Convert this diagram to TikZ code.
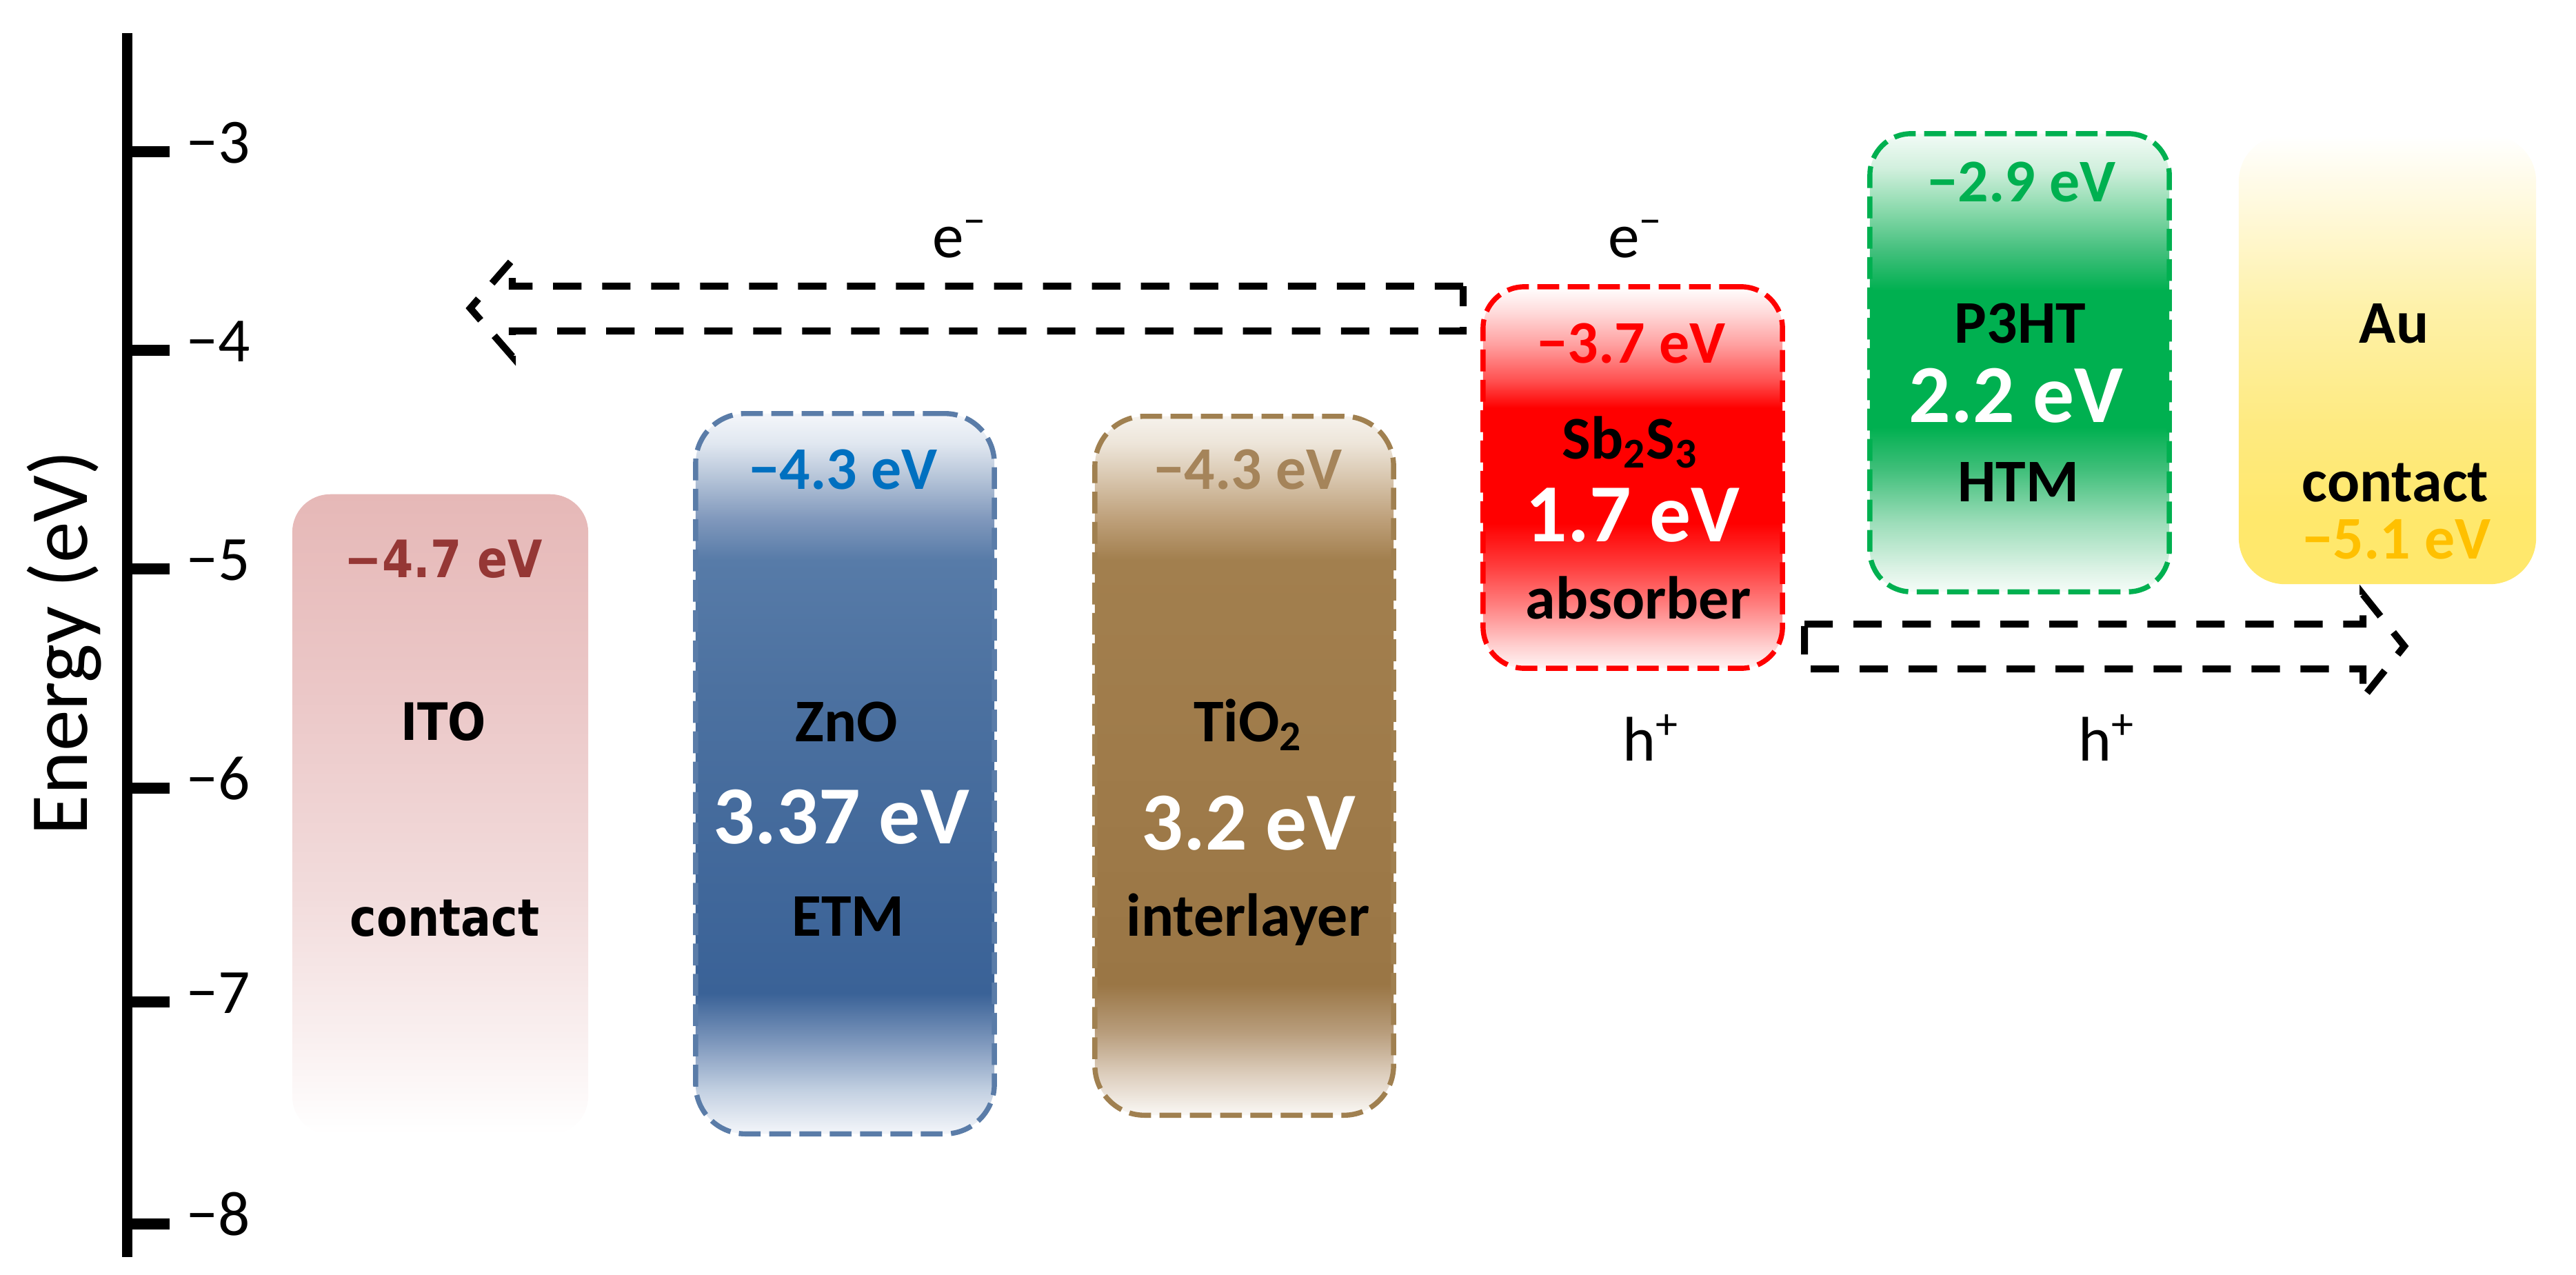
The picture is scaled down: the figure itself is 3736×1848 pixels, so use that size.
\documentclass[tikz,border=0pt]{standalone}
\usepackage{fontspec}
\usepackage{graphicx}
\setmainfont{Carlito}
\newfontfamily\itofont{DejaVu Sans}
% ZnO
\definecolor{zA}{HTML}{F4F6FA}\definecolor{zB}{HTML}{C4D1E2}\definecolor{zC}{HTML}{7D97BC}
\definecolor{zD}{HTML}{3A6297}\definecolor{zE}{HTML}{4C71A0}\definecolor{zF}{HTML}{577BA8}
\definecolor{zG}{HTML}{8098BC}\definecolor{zH}{HTML}{B5C4D8}\definecolor{zI}{HTML}{E0E7F0}
\pgfdeclareverticalshading{shzno}{100bp}{color(0bp)=(zA); color(25bp)=(zA); color(27.95bp)=(zB); color(31.37bp)=(zC); color(34.74bp)=(zD); color(55.8bp)=(zE); color(64.83bp)=(zF); color(67.68bp)=(zG); color(70.53bp)=(zH); color(72.91bp)=(zI); color(75bp)=(zA); color(100bp)=(zA)}
% TiO2
\definecolor{tA}{HTML}{FAF8F5}\definecolor{tB}{HTML}{DCCDBC}\definecolor{tC}{HTML}{B89D7C}
\definecolor{tD}{HTML}{9A7645}\definecolor{tE}{HTML}{9F7B4A}\definecolor{tF}{HTML}{A27F4E}
\definecolor{tG}{HTML}{BEA07A}\definecolor{tH}{HTML}{D8C6AE}\definecolor{tI}{HTML}{EDE5D9}\definecolor{tJ}{HTML}{F6F2EC}
\pgfdeclareverticalshading{shtio}{100bp}{color(0bp)=(tA); color(25bp)=(tA); color(27.99bp)=(tB); color(30.93bp)=(tC); color(34.35bp)=(tD); color(50.51bp)=(tE); color(64.72bp)=(tF); color(67.65bp)=(tG); color(70.59bp)=(tH); color(73.04bp)=(tI); color(75bp)=(tJ); color(100bp)=(tJ)}
% Sb2S3
\definecolor{sA}{HTML}{FFF5F5}\definecolor{sB}{HTML}{FFCFCF}\definecolor{sC}{HTML}{FF8080}
\definecolor{sD}{HTML}{FF3A3A}\definecolor{sE}{HTML}{FF0000}\definecolor{sF}{HTML}{FF5050}
\definecolor{sG}{HTML}{FFA0A0}\definecolor{sH}{HTML}{FFDADA}\definecolor{sI}{HTML}{FFFFFF}
\pgfdeclareverticalshading{shsb}{100bp}{color(0bp)=(sA); color(25bp)=(sA); color(27.94bp)=(sB); color(33.29bp)=(sC); color(38.64bp)=(sD); color(43.98bp)=(sE); color(59.14bp)=(sE); color(62.7bp)=(sF); color(67.42bp)=(sG); color(71.61bp)=(sH); color(75bp)=(sI); color(100bp)=(sI)}
% P3HT
\definecolor{pA}{HTML}{F5FCF8}\definecolor{pB}{HTML}{DDF3E6}\definecolor{pC}{HTML}{9CDDB9}
\definecolor{pD}{HTML}{3DBE78}\definecolor{pE}{HTML}{00B050}\definecolor{pF}{HTML}{45C07E}
\definecolor{pG}{HTML}{8CDAAD}\definecolor{pH}{HTML}{D2F0DE}\definecolor{pI}{HTML}{F2FBF6}
\pgfdeclareverticalshading{shp3}{100bp}{color(0bp)=(pA); color(25bp)=(pA); color(27.38bp)=(pB); color(32.59bp)=(pC); color(38.54bp)=(pD); color(43.01bp)=(pE); color(57.89bp)=(pE); color(62.35bp)=(pF); color(66.82bp)=(pG); color(71.28bp)=(pH); color(75bp)=(pI); color(100bp)=(pI)}
% Au
\definecolor{aA}{HTML}{FFE86C}\definecolor{aB}{HTML}{FEEA80}\definecolor{aC}{HTML}{FEF1A8}
\definecolor{aD}{HTML}{FFF9DC}\definecolor{aE}{HTML}{FFFFFF}
\pgfdeclareverticalshading{shau}{100bp}{color(0bp)=(aA); color(25bp)=(aA); color(32.45bp)=(aA); color(42.43bp)=(aB); color(55.49bp)=(aC); color(67.01bp)=(aD); color(75bp)=(aE); color(100bp)=(aE)}
% ITO
\definecolor{iA}{HTML}{FFFFFF}\definecolor{iB}{HTML}{F9EFEF}\definecolor{iC}{HTML}{F2DCDC}
\definecolor{iD}{HTML}{EBC7C7}\definecolor{iE}{HTML}{E6B8B7}
\pgfdeclareverticalshading{shito}{100bp}{color(0bp)=(iA); color(25bp)=(iA); color(32.81bp)=(iB); color(43.59bp)=(iC); color(59.75bp)=(iD); color(75bp)=(iE); color(100bp)=(iE)}
% text and border colours
\definecolor{itoT}{HTML}{953735}
\definecolor{znoT}{HTML}{0070C0}
\definecolor{znoL}{HTML}{5A7CA8}
\definecolor{tioT}{HTML}{A5845A}
\definecolor{tioL}{HTML}{A08050}
\definecolor{sbT}{HTML}{FF0000}
\definecolor{p3T}{HTML}{00B050}
\definecolor{auT}{HTML}{FFC000}
\begin{document}
\begin{tikzpicture}[x=0.01cm,y=-0.01cm,
  bx/.style={rectangle, inner sep=0pt, outer sep=0pt, shade},
  bord/.style={draw=#1, line width=2.1pt, dash pattern=on 9pt off 3.5pt},
  lab/.style={font=\bfseries\fontsize{25}{30}\selectfont, anchor=base, inner sep=0pt},
  big/.style={font=\bfseries\fontsize{34}{40}\selectfont, anchor=base, inner sep=0pt, text=white},
  itol/.style={font=\itofont\bfseries\fontsize{18.5}{22}\selectfont, anchor=base, inner sep=0pt},
  ticklab/.style={font=\fontsize{26}{30}\selectfont, anchor=base west, inner sep=0pt},
  car/.style={font=\fontsize{26}{30}\selectfont, anchor=base, inner sep=0pt},
  blk/.style={line width=2.85pt, dash pattern=on 11.7pt off 8.5pt, line join=miter},
  axl/.style={line width=4.3pt}
]
\useasboundingbox (0,0) rectangle (3736,1848);

% ---- axis
\coordinate (axTop) at (184.5,48);
\coordinate (axBot) at (184.5,1823);
\draw[axl] (axTop) -- (axBot);
\foreach \v/\y in {3/220,4/508,5/825,6/1143,7/1453,8/1775}{
  \coordinate (tk\v) at (184.5,\y);
  \draw[axl] (tk\v) -- ++(61,0);
  \node[ticklab] (tl\v) at (270,\y+16) {−\v};
}
\node[font=\fontsize{34}{40}\selectfont, rotate=90, anchor=base, inner sep=0pt] (ylab) at (126,932) {Energy (eV)};

% ---- boxes
\node[bx, shading=shito, rounded corners=0.55cm, minimum width=4.29cm, minimum height=9.28cm] (itoBox) at (638.5,1181) {};
\node[bx, shading=shzno, rounded corners=0.72cm, minimum width=4.33cm, minimum height=10.44cm, bord=znoL] (znoBox) at (1225.5,1122) {};
\node[bx, shading=shtio, rounded corners=0.72cm, minimum width=4.33cm, minimum height=10.13cm, bord=tioL] (tioBox) at (1804.5,1110.5) {};
\node[bx, shading=shsb, rounded corners=0.6cm, minimum width=4.34cm, minimum height=5.53cm, bord=sbT] (sbBox) at (2368,692.5) {};
\node[bx, shading=shp3, rounded corners=0.6cm, minimum width=4.34cm, minimum height=6.64cm, bord=p3T] (p3Box) at (2929,526) {};
\node[bx, shading=shau, rounded corners=0.67cm, minimum width=4.31cm, minimum height=6.51cm] (auBox) at (3462.5,521.5) {};

% ---- block arrows
\coordinate (eTail) at (2122,447);
\coordinate (eTip) at (682,447);
\draw[blk] (2122,415) -- (743,415) -- (743,377) -- (eTip) -- (743,517) -- (743,480) -- (2122,480) -- cycle;
\coordinate (hTail) at (2617,937);
\coordinate (hTip) at (3487,937);
\draw[blk] (2617,905) -- (3427,905) -- (3427,862) -- (hTip) -- (3427,1012) -- (3427,970) -- (2617,970) -- cycle;

\node[car] (e1) at (1392,373) {e\textsuperscript{−}};
\node[car] (e2) at (2372,373) {e\textsuperscript{−}};
\node[car] (h1) at (2394,1103) {h\textsuperscript{+}};
\node[car] (h2) at (3055,1103) {h\textsuperscript{+}};

% ---- ITO
\node[itol, text=itoT] (itoE) at (643,837) {\scalebox{1}[1.15]{−4.7 eV}};
\node[itol] (itoN) at (643,1073) {\scalebox{1}[1.15]{ITO}};
\node[itol] (itoR) at (645,1357) {\scalebox{1}[1.15]{contact}};
% ---- ZnO
\node[lab, text=znoT] (znoE) at (1223,709) {−4.3 eV};
\node[lab] (znoN) at (1228,1075) {ZnO};
\node[big] (znoG) at (1220,1223) {3.37 eV};
\node[lab] (znoR) at (1230,1357) {ETM};
% ---- TiO2
\node[lab, text=tioT] (tioE) at (1810,709) {−4.3 eV};
\node[lab] (tioN) at (1810,1075) {TiO\textsubscript{2}};
\node[big] (tioG) at (1811,1232) {3.2 eV};
\node[lab] (tioR) at (1810,1357) {interlayer};
% ---- Sb2S3
\node[lab, text=sbT] (sbE) at (2366,526) {−3.7 eV};
\node[lab] (sbN) at (2364,665) {Sb\textsubscript{2}S\textsubscript{3}};
\node[big] (sbG) at (2368,785) {1.7 eV};
\node[lab] (sbR) at (2376,897) {absorber};
% ---- P3HT
\node[lab, text=p3T] (p3E) at (2932,292) {−2.9 eV};
\node[lab] (p3N) at (2930,497) {P3HT};
\node[big] (p3G) at (2924,612) {2.2 eV};
\node[lab] (p3R) at (2927,727) {HTM};
% ---- Au
\node[lab] (auN) at (3472,497) {Au};
\node[lab] (auR) at (3474,727) {contact};
\node[lab, text=auT] (auE) at (3476,810) {−5.1 eV};
\end{tikzpicture}
\end{document}
